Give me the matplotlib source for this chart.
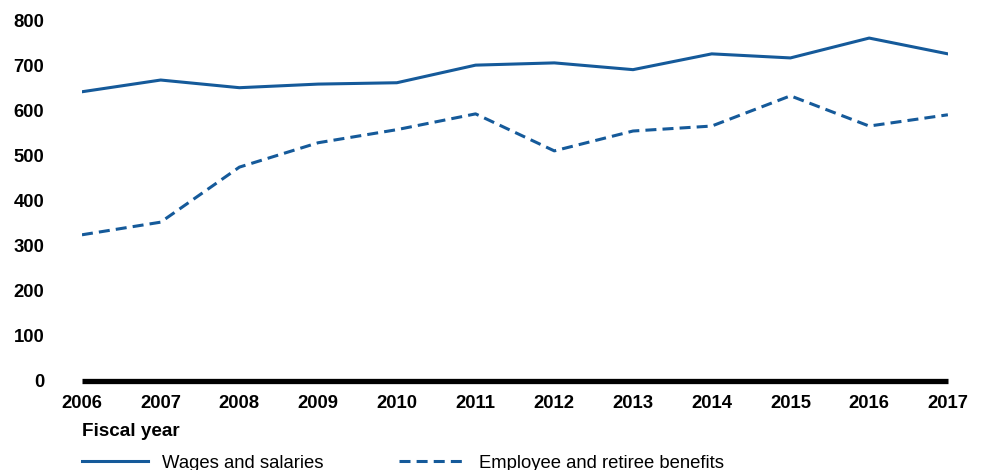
import matplotlib
matplotlib.use("Agg")
import matplotlib.pyplot as plt

plt.rcParams['font.family'] = ['Liberation Sans', 'DejaVu Sans']

years = [2006, 2007, 2008, 2009, 2010, 2011, 2012, 2013, 2014, 2015, 2016, 2017]
wages = [641, 667, 650, 658, 661, 700, 705, 690, 725, 716, 760, 725]
benefits = [324, 352, 474, 528, 557, 592, 510, 554, 565, 632, 565, 590]
yticks = [0, 100, 200, 300, 400, 500, 600, 700, 800]

blue = '#155a9a'
fs = 13.3

fig = plt.figure(figsize=(9.84, 4.70), dpi=100)
ax = fig.add_axes([0.0833, 0.1894, 0.880, 0.768])

ax.plot(years, wages, color=blue, lw=2.2, label='Wages and salaries')
ax.plot(years, benefits, color=blue, lw=2.2, dashes=(3.6, 2.0), label='Employee and retiree benefits')
ax.plot([years[0], years[-1]], [0, 0], color='black', lw=3.8, solid_capstyle='butt', clip_on=False)

ax.set_xlim(2006, 2017)
ax.set_ylim(0, 800)
ax.set_xticks(years)
ax.set_yticks(yticks)
for s in ax.spines.values():
    s.set_visible(False)
ax.tick_params(axis='both', length=0, labelsize=fs)
ax.tick_params(axis='x', pad=10)
ax.tick_params(axis='y', pad=27)
for lab in ax.get_xticklabels() + ax.get_yticklabels():
    lab.set_fontweight('bold')

fig.text(82 / 984, 1 - 432 / 470, 'Fiscal year', fontsize=fs + 0.3, fontweight='bold', va='center', ha='left')

fig.legend(loc='center left', bbox_to_anchor=(82 / 984, 1 - 463 / 470), ncol=2, frameon=False,
           fontsize=fs, handlelength=3.57, handletextpad=0.76, columnspacing=4.1, borderpad=0, borderaxespad=0)

fig.savefig('out.png', dpi=100)
